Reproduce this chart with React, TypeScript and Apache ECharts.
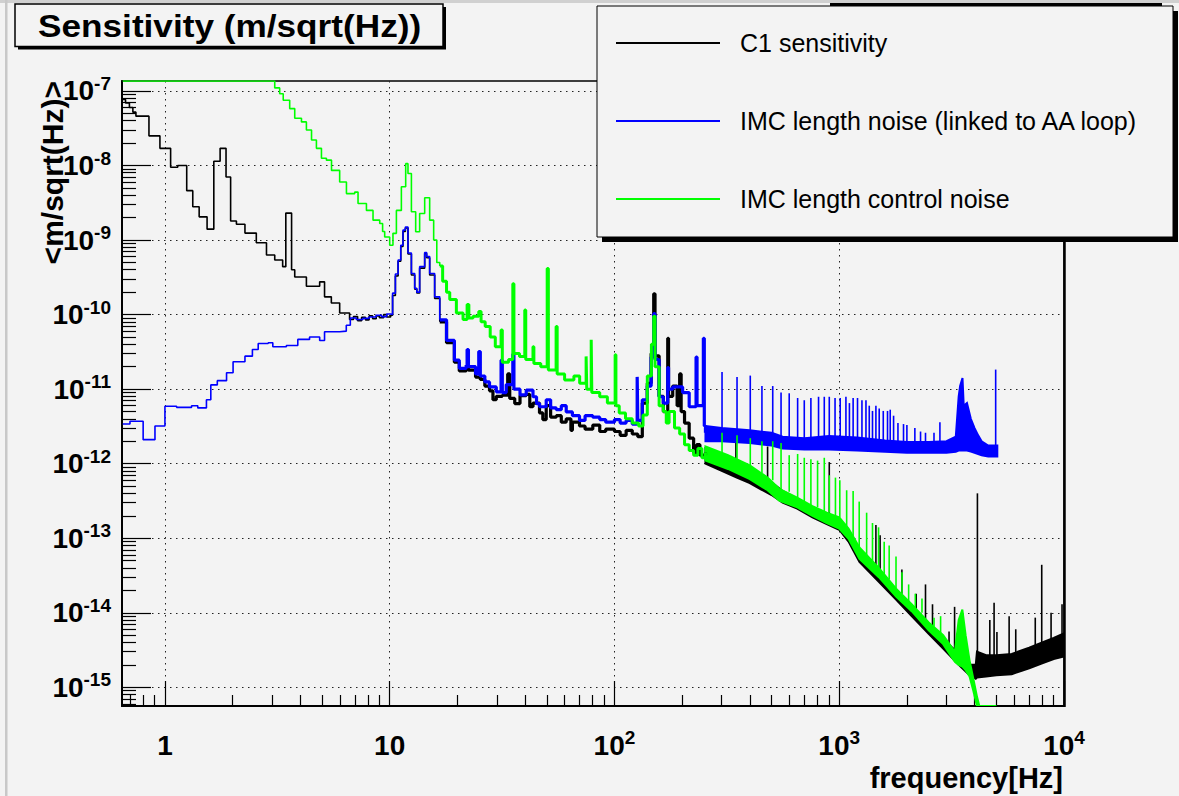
import { useEffect, useRef } from "react";
import * as echarts from "echarts";

const FONT = "'Liberation Sans', Arial, Helvetica, sans-serif";

// Axis extents, in decades: log10(Hz) and log10(m/sqrt(Hz))
const X_LOG_MIN = -0.191;
const X_LOG_MAX = 4;
const Y_LOG_MIN = -15.251;
const Y_LOG_MAX = -6.866;

const xDecades = [0, 1, 2, 3, 4];
const yDecades = [-15, -14, -13, -12, -11, -10, -9, -8, -7];
const minorMantissas = [2, 3, 4, 5, 6, 7, 8, 9];

const NAME_C1 = "C1 sensitivity";
const NAME_IMC = "IMC length noise (linked to AA loop)";
const NAME_CTRL = "IMC length control noise";

// ---- C1 sensitivity: [Hz (bin start), m/sqrt(Hz)] ----
const c1Low = [
  [0.649, 7.7e-8], [0.668, 6.9e-8], [0.695, 6.0e-8], [0.72, 5.2e-8], [0.743, 4.6e-8],
  [0.849, 2.5e-8], [0.95, 1.7e-8], [1.06, 9.5e-9], [1.14, 1.0e-8], [1.25, 4.6e-9],
  [1.33, 2.8e-9], [1.42, 2.05e-9], [1.54, 1.4e-9], [1.65, 1.14e-8], [1.76, 1.7e-8],
  [1.87, 7.0e-9], [1.96, 1.8e-9], [2.08, 1.63e-9], [2.27, 1.24e-9], [2.55, 9.2e-10],
  [2.83, 6.3e-10], [3.08, 5.4e-10], [3.34, 4.4e-10], [3.45, 2.3e-9], [3.66, 4.0e-10],
  [3.78, 3.2e-10], [4.26, 2.4e-10], [4.88, 2.75e-10], [5.13, 1.73e-10], [5.5, 1.43e-10],
  [5.99, 1.05e-10], [6.63, 8.6e-11], [6.9, 9.4e-11], [7.2, 8.3e-11], [7.5, 9.2e-11],
  [7.8, 8.5e-11], [8.1, 9.6e-11], [8.4, 8.8e-11], [8.71, 9.6e-11], [9.0, 9.1e-11],
  [9.4, 1.0e-10], [9.7, 9.3e-11], [10.1, 9.8e-11], [10.3, 1.8e-10], [10.6, 3.3e-10],
  [10.9, 5.2e-10], [11.2, 8.2e-10], [11.46, 1.3e-9], [11.74, 1.45e-9], [12.06, 6.5e-10],
  [12.49, 3.4e-10], [12.92, 2.2e-10], [13.2, 1.95e-10], [13.59, 4.2e-10], [14.31, 6.6e-10],
  [14.6, 5.8e-10], [15.06, 3.4e-10], [15.85, 1.65e-10], [16.7, 8.0e-11],
];
const c1Mid = [
  [16.7, 8.0e-11], [17.9, 4.2e-11], [19.4, 2.3e-11], [20.4, 1.75e-11], [21.9, 1.9e-11],
  [22.4, 1.8e-11], [24.1, 1.45e-11], [25.3, 1.35e-11], [26.5, 1.1e-11], [27.8, 9.5e-12],
  [28.8, 7.2e-12], [29.8, 8.0e-12], [31.7, 8.3e-12], [33.5, 1.6e-11], [34.2, 7.5e-12],
  [36, 6.4e-12], [38, 8.2e-12], [40.5, 8.5e-12], [42, 5.8e-12], [43.4, 6.5e-12],
  [46.4, 4.8e-12], [48, 3.9e-12], [49.7, 6.0e-12], [52, 4.2e-12], [55.1, 4.4e-12],
  [58, 3.6e-12], [61, 4.0e-12], [64, 2.8e-12], [65, 3.6e-12], [69.9, 3.2e-12],
  [74, 2.9e-12], [80.1, 3.3e-12], [86, 2.7e-12], [91.4, 2.9e-12], [100, 2.7e-12],
  [106, 2.4e-12], [112.7, 2.8e-12], [120, 2.5e-12], [127, 2.3e-12], [133, 6.5e-12],
  [140, 1.2e-11], [145.6, 3.0e-11], [149.5, 1.9e-10], [151.5, 2.8e-11], [158, 8e-12],
  [165, 5e-12], [172.6, 4.8e-11], [174, 8e-12], [181.6, 1.1e-11], [190, 6e-12],
  [195, 1.6e-11], [198, 5e-12], [205, 3.5e-12], [215, 2.2e-12], [225, 1.4e-12],
  [232, 1.8e-12], [240, 1.3e-12], [254, 1.4e-12],
];
// [Hz, lower, upper] envelope of the dense spectrum
const c1Band = [
  [254, 1.0e-12, 1.6e-12], [300, 8.0e-13, 1.25e-12], [350, 6.5e-13, 1.0e-12],
  [400, 5.5e-13, 8.2e-13], [450, 4.5e-13, 6.8e-13], [500, 3.8e-13, 5.6e-13],
  [560, 3.0e-13, 4.3e-13], [650, 2.5e-13, 3.4e-13], [760, 1.9e-13, 2.6e-13],
  [880, 1.55e-13, 2.05e-13], [1000, 1.3e-13, 1.7e-13], [1100, 9.0e-14, 1.2e-13],
  [1230, 4.8e-14, 6.4e-14], [1500, 2.6e-14, 3.4e-14], [1790, 1.5e-14, 1.95e-14],
  [2100, 9.0e-15, 1.2e-14], [2500, 5.2e-15, 6.8e-15], [2900, 3.3e-15, 4.5e-15],
  [3400, 2.0e-15, 2.8e-15], [3800, 1.45e-15, 2.0e-15], [4050, 1.3e-15, 2.0e-15],
  [4100, 1.35e-15, 3.0e-15], [4500, 1.4e-15, 2.7e-15], [5000, 1.45e-15, 2.7e-15],
  [5850, 1.5e-15, 2.8e-15], [7000, 1.8e-15, 3.4e-15], [8000, 2.1e-15, 4.0e-15],
  [9000, 2.4e-15, 4.6e-15], [10000, 2.6e-15, 5.3e-15],
];
// [Hz, foot, peak] of narrow lines
const c1Lines = [
  [347, 1.0e-12, 2.0e-12], [480, 6.5e-13, 1.7e-12], [903, 2.0e-13, 1.05e-12],
  [1456, 3.4e-14, 1.5e-13], [1520, 3.2e-14, 1.1e-13], [1900, 1.8e-14, 3.8e-14],
  [2200, 1.1e-14, 1.8e-14], [2420, 7.5e-15, 2.4e-14], [2600, 6e-15, 1.3e-14],
  [3080, 3.8e-15, 5.6e-15], [3260, 3.2e-15, 1.2e-14], [4119, 3.0e-15, 4.0e-13],
  [4677, 2.7e-15, 8.0e-15], [4886, 2.7e-15, 1.36e-14], [5030, 2.7e-15, 5.5e-15],
  [5700, 2.8e-15, 9e-15], [6100, 2.9e-15, 6e-15], [7450, 3.6e-15, 8.6e-15],
  [7960, 3.9e-15, 4.4e-14], [8760, 4.2e-15, 1.0e-14], [9800, 5e-15, 1.3e-14],
];

// ---- IMC length noise (linked to AA loop) ----
const imcLow = [
  [0.649, 3.4e-12], [0.699, 3.7e-12], [0.80, 2.1e-12], [0.903, 3.2e-12], [1.0, 5.9e-12],
  [1.127, 5.7e-12], [1.314, 6.0e-12], [1.4, 5.6e-12], [1.53, 7.2e-12], [1.6, 1.14e-11],
  [1.71, 1.3e-11], [1.88, 1.66e-11], [2.01, 2.33e-11], [2.27, 2.77e-11], [2.45, 3.4e-11],
  [2.6, 4.1e-11], [2.88, 4.2e-11], [3.02, 3.7e-11], [3.47, 3.85e-11], [3.9, 4.65e-11],
  [4.4, 5.0e-11], [4.88, 4.5e-11], [5.13, 5.9e-11], [5.99, 6.0e-11], [6.41, 7.2e-11],
  [6.68, 9.0e-11], [7.1, 8.6e-11], [7.6, 8.9e-11], [8.1, 9.3e-11], [8.7, 9.8e-11],
  [9.2, 9.4e-11], [9.7, 1.02e-10], [10.1, 1.0e-10], [10.3, 1.94e-10], [10.6, 3.5e-10],
  [10.9, 5.4e-10], [11.2, 8.5e-10], [11.46, 1.36e-9], [11.74, 1.5e-9], [12.06, 6.7e-10],
  [12.49, 3.56e-10], [12.92, 2.25e-10], [13.2, 2.0e-10], [13.59, 4.4e-10], [14.31, 6.8e-10],
  [14.6, 6.0e-10], [15.06, 3.56e-10], [15.85, 1.73e-10], [16.7, 8.5e-11],
];
const imcMid = [
  [16.7, 8.5e-11], [17.9, 4.5e-11], [19.4, 2.45e-11], [20.4, 1.9e-11], [21.9, 2.1e-11],
  [22.1, 3.4e-11], [22.4, 2.0e-11], [24.1, 1.6e-11], [24.9, 3.2e-11], [25.3, 1.5e-11],
  [26.5, 1.25e-11], [27.8, 1.07e-11], [29.8, 9.2e-12], [31.3, 2.45e-11], [31.7, 9.0e-12],
  [33, 1.15e-11], [35.3, 2.95e-11], [35.7, 1.0e-11], [38, 8.4e-12], [40.5, 9.7e-12],
  [43.4, 7.9e-12], [45, 6.4e-12], [46.4, 5.8e-12], [49.7, 7.2e-12], [52, 5.6e-12],
  [55.1, 5.3e-12], [58, 6.0e-12], [61, 4.95e-12], [65, 4.4e-12], [69.9, 3.8e-12],
  [74, 4.4e-12], [80.1, 4.2e-12], [86, 3.9e-12], [91.4, 3.6e-12], [100, 3.9e-12],
  [106, 3.5e-12], [112.7, 3.8e-12], [120, 3.4e-12], [126.2, 1.46e-11], [127, 3.8e-12],
  [133, 7.2e-12], [140, 1.1e-11], [145.6, 2.7e-11], [149.5, 1.03e-10], [151.5, 2.5e-11],
  [158, 7.9e-12], [165, 6.5e-12], [172.6, 1.95e-11], [174, 1.0e-11], [181.6, 1.07e-11],
  [201, 9e-12], [215, 5.8e-12], [230.7, 2.7e-11], [233, 6e-12], [248.6, 4.8e-11],
  [251, 3.2e-12], [254, 2.6e-12],
];
const imcBand = [
  [254, 2.0e-12, 3.2e-12], [300, 2.0e-12, 3.0e-12], [400, 1.9e-12, 2.8e-12],
  [500, 1.75e-12, 2.6e-12], [560, 1.6e-12, 2.3e-12], [700, 1.55e-12, 2.2e-12],
  [900, 1.55e-12, 2.35e-12], [1200, 1.5e-12, 2.25e-12], [1600, 1.45e-12, 2.05e-12],
  [2000, 1.4e-12, 1.95e-12], [2500, 1.4e-12, 1.95e-12], [3000, 1.4e-12, 2.0e-12],
  [3300, 1.45e-12, 2.3e-12], [3400, 1.5e-12, 8e-12], [3450, 1.5e-12, 1.1e-11],
  [3535, 1.5e-12, 1.41e-11], [3580, 1.5e-12, 6e-12], [3700, 1.5e-12, 6.5e-12],
  [3850, 1.45e-12, 4e-12], [4000, 1.4e-12, 3e-12], [4150, 1.35e-12, 2.4e-12],
  [4300, 1.3e-12, 2.0e-12], [4600, 1.25e-12, 1.75e-12], [5050, 1.25e-12, 1.75e-12],
];
const imcLines = [
  [301, 2.9e-12, 1.7e-11], [351, 2.8e-12, 1.46e-11], [402, 2.7e-12, 1.52e-11],
  [453, 2.6e-12, 1.1e-11], [506, 2.5e-12, 1.1e-11], [551, 2.3e-12, 9e-12],
  [599, 2.2e-12, 8.8e-12], [653, 2.2e-12, 7.6e-12], [699, 2.2e-12, 7.1e-12],
  [748, 2.2e-12, 7.6e-12], [809, 2.2e-12, 7.9e-12], [858, 2.2e-12, 7.9e-12],
  [903, 2.3e-12, 7.9e-12], [958, 2.3e-12, 7.6e-12], [1010, 2.3e-12, 7.6e-12],
  [1071, 2.3e-12, 7.9e-12], [1110, 2.2e-12, 6.5e-12], [1153, 2.2e-12, 7.6e-12],
  [1206, 2.2e-12, 7.6e-12], [1262, 2.2e-12, 7.1e-12], [1315, 2.1e-12, 7.1e-12],
  [1360, 2.1e-12, 6.0e-12], [1406, 2.1e-12, 5.1e-12], [1456, 2.1e-12, 6.0e-12],
  [1506, 2.1e-12, 5.5e-12], [1570, 2.0e-12, 5.1e-12], [1640, 2.0e-12, 5.1e-12],
  [1686, 2.0e-12, 5.3e-12], [1745, 2.0e-12, 4.4e-12], [1825, 2.0e-12, 3.5e-12],
  [1932, 2.0e-12, 3.4e-12], [2000, 1.95e-12, 3.3e-12], [2170, 1.95e-12, 3.0e-12],
  [2300, 1.95e-12, 2.7e-12], [2420, 1.95e-12, 2.6e-12], [2640, 1.95e-12, 2.6e-12],
  [2805, 1.95e-12, 3.6e-12], [4966, 1.4e-12, 1.83e-11],
];

// ---- IMC length control noise (off-scale values are pinned to the frame) ----
const ctrlLow = [
  [0.649, 1.4e-7], [3.08, 1.1e-7], [3.24, 9.2e-8], [3.36, 7.5e-8], [3.59, 5.8e-8],
  [3.78, 4.3e-8], [4.05, 3.85e-8], [4.26, 3.0e-8], [4.49, 2.2e-8], [4.72, 1.7e-8],
  [4.97, 1.25e-8], [5.23, 1.18e-8], [5.51, 8.6e-9], [5.99, 6.0e-9], [6.42, 4.2e-9],
  [6.99, 4.4e-9], [7.23, 3.1e-9], [7.88, 2.5e-9], [8.43, 1.85e-9], [9.03, 1.67e-9],
  [9.3, 1.3e-9], [9.5, 1.1e-9], [10.0, 8.5e-10], [10.34, 1.23e-9], [10.71, 2.5e-9],
  [11.27, 5.2e-9], [11.78, 1.06e-8], [12.06, 7.8e-9], [12.49, 2.4e-9], [13.05, 1.29e-9],
  [13.59, 2.27e-9], [14.31, 3.7e-9], [15.06, 1.85e-9], [15.69, 1.0e-9], [16.2, 5.0e-10],
  [16.7, 4.5e-10],
];
const ctrlMid = [
  [16.7, 4.5e-10], [17.2, 2.8e-10], [17.9, 2.0e-10], [18.5, 1.6e-10], [19.8, 1.05e-10],
  [21.2, 8.6e-11], [22.1, 1.37e-10], [22.5, 9.0e-11], [23.5, 9.5e-11], [24.9, 1.1e-10],
  [25.5, 8.0e-11], [26.6, 6.9e-11], [28, 5e-11], [29.5, 3.7e-11], [31.3, 6.2e-11],
  [31.7, 2.3e-11], [33.8, 2.5e-11], [35.3, 2.6e-10], [35.7, 3.0e-11], [37.8, 2.75e-11],
  [39.9, 1.15e-10], [40.3, 2.5e-11], [43.4, 3.7e-11], [43.8, 2.2e-11], [47, 2.0e-11],
  [50.2, 4.16e-10], [50.8, 1.8e-11], [55, 6.9e-11], [55.6, 1.6e-11], [60, 1.33e-11],
  [66, 1.5e-11], [70, 1.2e-11], [74.8, 2.75e-11], [75.3, 1.0e-11], [78.8, 4.6e-11],
  [79.3, 9e-12], [86, 7.9e-12], [93, 6.5e-12], [100.7, 2.9e-11], [101.5, 6e-12],
  [105, 4.8e-12], [112, 4.0e-12], [120, 3.5e-12], [128, 3.2e-12], [134, 4.5e-12],
  [140, 1.5e-11], [146, 4e-11], [149.5, 9.5e-11], [151.5, 2e-11], [158, 6e-12],
  [165, 5e-12], [170, 3.5e-12], [175, 5e-12], [185, 3e-12], [195, 2.5e-12],
  [205, 1.8e-12], [215, 1.5e-12], [225, 1.3e-12], [235, 1.6e-12], [245, 1.2e-12],
  [254, 1.4e-12],
];
const ctrlBand = [
  [254, 1.1e-12, 1.7e-12], [320, 8.5e-13, 1.3e-12], [400, 6.2e-13, 9.5e-13],
  [480, 4.4e-13, 6.5e-13], [541, 3.2e-13, 4.6e-13], [650, 2.6e-13, 3.5e-13],
  [760, 2.0e-13, 2.7e-13], [880, 1.6e-13, 2.2e-13], [1000, 1.35e-13, 1.9e-13],
  [1100, 9.8e-14, 1.35e-13], [1230, 5.3e-14, 7.5e-14], [1500, 3.0e-14, 4.0e-14],
  [1790, 1.65e-14, 2.1e-14], [2100, 1.05e-14, 1.3e-14], [2500, 5.8e-15, 7.4e-15],
  [2900, 3.8e-15, 5.0e-15], [3270, 2.2e-15, 3.0e-15], [3400, 2.0e-15, 8e-15],
  [3530, 1.9e-15, 1.1e-14], [3650, 1.7e-15, 5e-15], [3800, 1.4e-15, 2.3e-15],
  [3950, 9e-16, 1.3e-15], [4100, 5.5e-16, 7.5e-16], [4200, 4e-16, 5e-16],
  [5000, 4e-16, 5e-16],
];
const ctrlLines = [
  [301, 1.3e-12, 2.6e-12], [351, 1.1e-12, 2.4e-12], [402, 9e-13, 2.2e-12],
  [453, 7.5e-13, 2.0e-12], [506, 6e-13, 2.0e-12], [551, 4.5e-13, 1.9e-12],
  [599, 4.2e-13, 1.3e-12], [653, 3.5e-13, 1.35e-12], [699, 3.1e-13, 1.2e-12],
  [748, 2.8e-13, 1.15e-12], [801, 2.6e-13, 1.1e-12], [858, 2.3e-13, 1.2e-12],
  [903, 2.2e-13, 7e-13], [962, 2.0e-13, 6.5e-13], [1006, 1.9e-13, 6e-13],
  [1079, 1.2e-13, 4.4e-13], [1153, 9e-14, 4.3e-13], [1227, 7e-14, 3.1e-13],
  [1324, 5.5e-14, 2.2e-13], [1406, 4.5e-14, 1.6e-13], [1496, 4.0e-14, 1.4e-13],
  [1585, 3.2e-14, 9e-14], [1668, 2.8e-14, 8e-14], [1789, 2.1e-14, 5.7e-14],
  [1902, 1.8e-14, 3.5e-14], [2036, 1.4e-14, 2.4e-14], [2180, 1.2e-14, 1.8e-14],
  [2334, 1.0e-14, 1.55e-14], [2641, 6.5e-15, 8.6e-15], [2825, 5.2e-15, 9e-15],
];

const COLORS = { c1: "#000000", imc: "#0000ff", ctrl: "#00ff00" };

const lg = Math.log10;
const clampY = (v: number) => Math.min(Y_LOG_MAX, Math.max(Y_LOG_MIN, lg(v)));
const toXY = (pts: number[][]) => pts.map(([f, v]) => [lg(f), clampY(v)]);

function minorTicks(lo: number, hi: number) {
  const out: number[] = [];
  for (let d = Math.floor(lo) - 1; d <= Math.ceil(hi); d++) {
    for (const m of minorMantissas) {
      const v = d + lg(m);
      if (v > lo && v < hi) out.push(v);
    }
  }
  return out;
}

function stepSeries(name: string, color: string, pts: number[][], width: number) {
  return {
    type: "line",
    name,
    data: toXY(pts),
    step: "end",
    symbol: "none",
    color,
    lineStyle: { color, width },
    clip: true,
    silent: true,
  };
}

function bandSeries(name: string, color: string, band: number[][]) {
  const upper = band.map(([f, , hi]) => [lg(f), clampY(hi)]);
  const lower = band.map(([f, lo]) => [lg(f), clampY(lo)]);
  const outline = upper.concat(lower.slice().reverse());
  return {
    type: "custom",
    name,
    color,
    clip: true,
    silent: true,
    data: [upper[0]],
    renderItem: (_p: any, api: any) => ({
      type: "polygon",
      shape: { points: outline.map((p) => api.coord(p)) },
      style: { fill: color, stroke: color, lineWidth: 2 },
    }),
  };
}

function linesSeries(name: string, color: string, lines: number[][]) {
  return {
    type: "custom",
    name,
    color,
    clip: true,
    silent: true,
    encode: { x: 0, y: [1, 2] },
    data: lines.map(([f, lo, hi]) => [lg(f), clampY(lo), clampY(hi)]),
    renderItem: (_p: any, api: any) => {
      const a = api.coord([api.value(0), api.value(1)]);
      const b = api.coord([api.value(0), api.value(2)]);
      return {
        type: "line",
        shape: { x1: a[0], y1: a[1], x2: b[0], y2: b[1] },
        style: { stroke: color, lineWidth: 1.6 },
      };
    },
  };
}

const richLabel = (supLineHeight: number) => ({
  b: { fontFamily: FONT, fontSize: 28, fontWeight: "bold", color: "#000", lineHeight: 34 },
  s: {
    fontFamily: FONT,
    fontSize: 19,
    fontWeight: "bold",
    color: "#000",
    lineHeight: supLineHeight,
    verticalAlign: "top",
  },
});

const gridDots = { color: "#222", width: 1, type: [1.5, 4.5] };
const tickStyle = { color: "#000", width: 1.2 };

function buildOption() {
  const xMinor = minorTicks(X_LOG_MIN, X_LOG_MAX);
  const yMinor = minorTicks(Y_LOG_MIN, Y_LOG_MAX);
  return {
    animation: false,
    backgroundColor: "#f3f3f3",
    grid: {
      left: 122,
      top: 81,
      width: 942,
      height: 625,
      show: true,
      borderColor: "#000",
      borderWidth: 1.5,
      backgroundColor: "transparent",
    },
    xAxis: [
      {
        type: "value",
        min: X_LOG_MIN,
        max: X_LOG_MAX,
        position: "bottom",
        axisLine: { show: true, onZero: false, lineStyle: { color: "#000", width: 2 } },
        axisTick: { show: true, inside: true, length: 25, customValues: xDecades, lineStyle: tickStyle },
        axisLabel: {
          show: true,
          customValues: xDecades,
          margin: 22,
          formatter: (v: number) => {
            const n = Math.round(v);
            if (n === 0) return "{b|1}";
            if (n === 1) return "{b|10}";
            return `{b|10}{s|${n}}`;
          },
          rich: richLabel(10),
        },
        splitLine: { show: true, lineStyle: gridDots },
      },
      {
        type: "value",
        min: X_LOG_MIN,
        max: X_LOG_MAX,
        position: "bottom",
        axisLine: { show: false, onZero: false },
        axisTick: { show: true, inside: true, length: 11, customValues: xMinor, lineStyle: tickStyle },
        axisLabel: { show: false },
        splitLine: { show: false },
      },
    ],
    yAxis: [
      {
        type: "value",
        min: Y_LOG_MIN,
        max: Y_LOG_MAX,
        position: "left",
        axisLine: { show: true, onZero: false, lineStyle: { color: "#000", width: 2 } },
        axisTick: { show: true, inside: true, length: 29, customValues: yDecades, lineStyle: tickStyle },
        axisLabel: {
          show: true,
          customValues: yDecades,
          margin: 11,
          formatter: (v: number) => `{b|10}{s|${Math.round(v)}}`,
          rich: richLabel(18),
        },
        splitLine: { show: true, lineStyle: gridDots },
      },
      {
        type: "value",
        min: Y_LOG_MIN,
        max: Y_LOG_MAX,
        position: "left",
        axisLine: { show: false, onZero: false },
        axisTick: { show: true, inside: true, length: 14, customValues: yMinor, lineStyle: tickStyle },
        axisLabel: { show: false },
        splitLine: { show: false },
      },
    ],
    legend: {
      show: true,
      data: [NAME_C1, NAME_IMC, NAME_CTRL],
      orient: "vertical",
      left: 616,
      top: 28,
      padding: 0,
      itemWidth: 104,
      itemHeight: 2,
      itemGap: 48,
      icon: "rect",
      selectedMode: false,
      textStyle: {
        fontFamily: FONT,
        fontSize: 25,
        color: "#000",
        lineHeight: 30,
        padding: [0, 0, 0, 15],
      },
    },
    series: [
      stepSeries(NAME_C1, COLORS.c1, c1Low, 1.6),
      stepSeries(NAME_C1, COLORS.c1, c1Mid, 3.2),
      bandSeries(NAME_C1, COLORS.c1, c1Band),
      linesSeries(NAME_C1, COLORS.c1, c1Lines),
      stepSeries(NAME_IMC, COLORS.imc, imcLow, 1.6),
      stepSeries(NAME_IMC, COLORS.imc, imcMid, 3.2),
      bandSeries(NAME_IMC, COLORS.imc, imcBand),
      linesSeries(NAME_IMC, COLORS.imc, imcLines),
      stepSeries(NAME_CTRL, COLORS.ctrl, ctrlLow, 1.6),
      stepSeries(NAME_CTRL, COLORS.ctrl, ctrlMid, 3.0),
      bandSeries(NAME_CTRL, COLORS.ctrl, ctrlBand),
      linesSeries(NAME_CTRL, COLORS.ctrl, ctrlLines),
    ],
    graphic: [
      // canvas edges
      { type: "rect", z: 0, shape: { x: 0, y: 0, width: 1179, height: 3 }, style: { fill: "#d0d0d0" } },
      { type: "rect", z: 0, shape: { x: 5, y: 0, width: 2.5, height: 796 }, style: { fill: "#c8c8c8" } },
      { type: "rect", z: 0, shape: { x: 830, y: 3, width: 332, height: 3 }, style: { fill: "#000" } },
      // heavy right edge of the frame
      {
        type: "line",
        z: 3,
        shape: { x1: 1064.5, y1: 236, x2: 1064.5, y2: 707 },
        style: { stroke: "#000", lineWidth: 2.5 },
      },
      // title box
      { type: "rect", z: 10, shape: { x: 18, y: 7, width: 428, height: 42.5 }, style: { fill: "#000" } },
      {
        type: "rect",
        z: 10,
        shape: { x: 15, y: 4, width: 428, height: 42.5 },
        style: { fill: "#f3f3f3", stroke: "#000", lineWidth: 1.5 },
      },
      {
        type: "text",
        z: 11,
        x: 38,
        y: 26,
        scaleX: 1.1,
        style: {
          text: "Sensitivity (m/sqrt(Hz))",
          font: `bold 32px ${FONT}`,
          fill: "#000",
          textAlign: "left",
          textVerticalAlign: "middle",
          align: "left",
          verticalAlign: "middle",
        },
      },
      // legend panel
      { type: "rect", z: 3, shape: { x: 602, y: 11, width: 576, height: 231 }, style: { fill: "#000" } },
      {
        type: "rect",
        z: 3,
        shape: { x: 597, y: 6, width: 576, height: 231 },
        style: { fill: "#f3f3f3", stroke: "#000", lineWidth: 1 },
      },
      // axis titles
      {
        type: "text",
        z: 11,
        x: 52,
        y: 81,
        rotation: Math.PI / 2,
        style: {
          text: "<m/sqrt(Hz)>",
          font: `bold 30px ${FONT}`,
          fill: "#000",
          textAlign: "right",
          textVerticalAlign: "middle",
          align: "right",
          verticalAlign: "middle",
        },
      },
      {
        type: "text",
        z: 11,
        x: 1063,
        y: 778,
        style: {
          text: "frequency[Hz]",
          font: `bold 29px ${FONT}`,
          fill: "#000",
          textAlign: "right",
          textVerticalAlign: "middle",
          align: "right",
          verticalAlign: "middle",
        },
      },
    ],
  };
}

export default function App() {
  const ref = useRef<HTMLDivElement>(null);
  useEffect(() => {
    if (!ref.current) return;
    const chart = echarts.init(ref.current, null, { renderer: "svg" });
    chart.setOption(buildOption() as any);
    return () => chart.dispose();
  }, []);
  return (
    <div
      ref={ref}
      style={{ position: "absolute", left: 0, top: 0, width: 1179, height: 796, background: "#f3f3f3" }}
    />
  );
}
